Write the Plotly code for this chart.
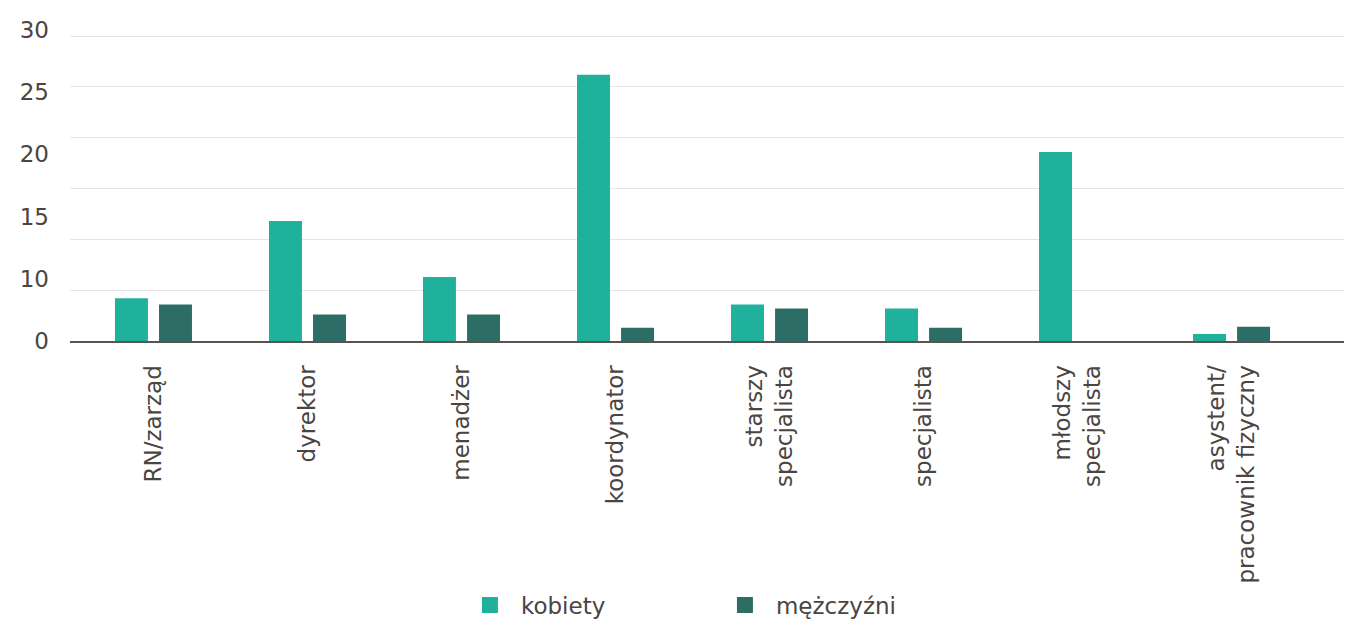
import plotly.graph_objects as go

categories = ["RN/zarząd", "dyrektor", "menadżer", "koordynator",
              "starszy<br>specjalista", "specjalista", "młodszy<br>specjalista",
              "asystent/<br>pracownik fizyczny"]
kobiety = [4.2, 11.8, 6.3, 26.2, 3.6, 3.2, 18.6, 0.7]
mezczyzni = [3.6, 2.6, 2.6, 1.3, 3.2, 1.3, 0.0, 1.4]
series_names = ["kobiety", "mężczyźni"]
series_colors = ["#1fb19c", "#2c6e65"]
y_tick_vals = [0, 1, 2, 3, 4, 5]
y_tick_text = ["0", "10", "15", "20", "25", "30"]

TEXT = "#4a4541"
FONT = "DejaVu Sans"
FS = 23

fig = go.Figure()
for vals, name, color, off in zip([kobiety, mezczyzni], series_names, series_colors,
                                  [-0.25, 0.036]):
    fig.add_trace(go.Bar(x=categories, y=vals, name=name, showlegend=False,
                         marker=dict(color=color, line=dict(width=0)),
                         width=0.214, offset=off))
# legend entries with larger square swatches
for name, color in zip(series_names, series_colors):
    fig.add_trace(go.Scatter(x=[None], y=[None], mode="markers", name=name,
                             marker=dict(symbol="square", size=20, color=color)))
# invisible trace to host the secondary y axis labels
fig.add_trace(go.Scatter(x=[categories[0]], y=[0], yaxis="y2", mode="markers",
                         marker=dict(opacity=0), showlegend=False, hoverinfo="skip"))

fig.update_layout(
    width=1352, height=611,
    margin=dict(l=62, r=0, t=22, b=278, autoexpand=False),
    plot_bgcolor="white", paper_bgcolor="white",
    font=dict(family=FONT, size=FS, color=TEXT),
    barmode="group",
    xaxis=dict(range=[-0.542, 7.834], tickangle=-90, showline=True,
               linecolor="#5a5350", linewidth=2, ticks="", showgrid=False,
               tickfont=dict(size=FS, color=TEXT), ticklabelstandoff=13,
               automargin=False),
    yaxis=dict(range=[0, 30.59], tickvals=[0, 5, 10, 15, 20, 25, 30],
               showticklabels=False, showgrid=True, gridcolor="#e4e4e4",
               gridwidth=1, zeroline=False, automargin=False),
    yaxis2=dict(overlaying="y", side="left", range=[0, 5], tickvals=y_tick_vals,
                ticktext=y_tick_text, showgrid=False, zeroline=False,
                ticklabelstandoff=20, tickfont=dict(size=FS, color=TEXT),
                automargin=False),
    legend=dict(orientation="h", x=0.3015, xanchor="left",
                yref="container", y=0.023, yanchor="middle",
                font=dict(size=FS, color=TEXT), entrywidth=188, itemwidth=52,
                itemsizing="trace"),
    showlegend=True,
)

fig.write_html("out.html")
